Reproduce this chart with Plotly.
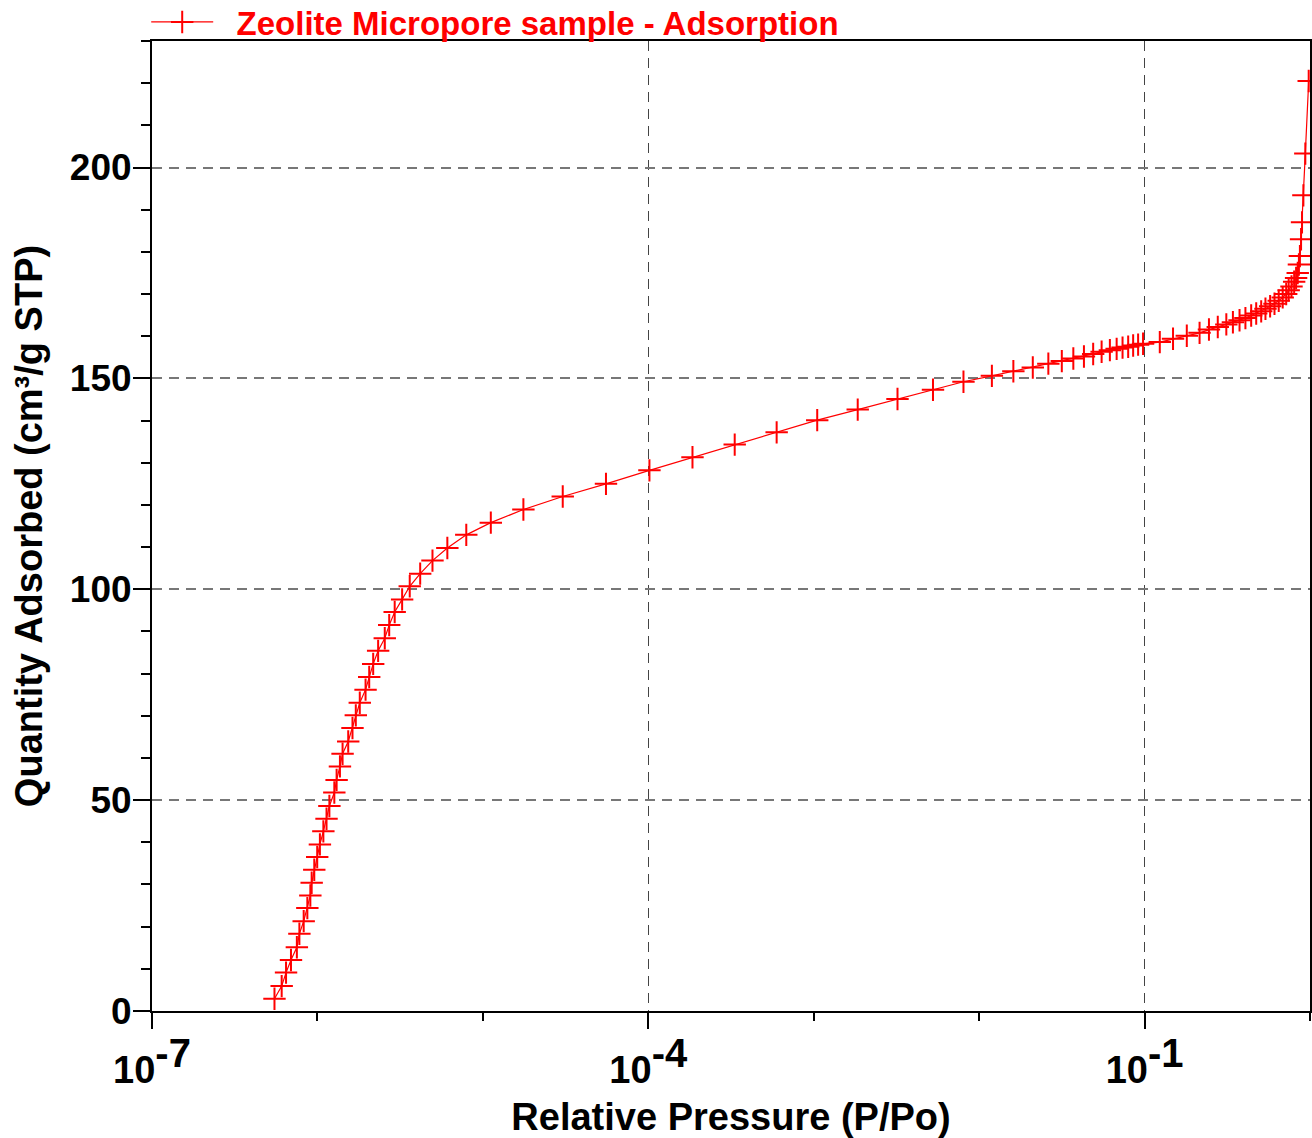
import plotly.graph_objects as go

# Relative pressure (P/Po)
pressure = [
    5.50e-7, 6.08e-7, 6.46e-7, 6.92e-7, 7.51e-7, 7.78e-7, 8.26e-7, 8.69e-7, 9.06e-7, 9.23e-7,
    9.57e-7, 9.97e-7, 1.035e-6, 1.086e-6, 1.135e-6, 1.181e-6, 1.265e-6, 1.306e-6, 1.368e-6, 1.419e-6,
    1.535e-6, 1.629e-6, 1.706e-6, 1.803e-6, 1.954e-6, 2.056e-6, 2.173e-6, 2.328e-6, 2.553e-6, 2.716e-6,
    2.931e-6, 3.251e-6, 3.614e-6, 4.18e-6, 4.96e-6, 6.10e-6, 7.94e-6, 1.117e-5, 1.758e-5, 3.04e-5,
    5.55e-5, 1.016e-4, 1.85e-4, 3.33e-4, 5.97e-4, 1.05e-3, 1.845e-3, 3.21e-3, 5.26e-3, 8.04e-3,
    1.194e-2, 1.61e-2, 2.11e-2, 2.62e-2, 3.16e-2, 3.71e-2, 4.30e-2, 4.89e-2, 5.50e-2, 6.17e-2,
    6.78e-2, 7.36e-2, 7.96e-2, 8.53e-2, 9.14e-2, 9.79e-2, 0.1236, 0.1486, 0.180, 0.215,
    0.245, 0.277, 0.312, 0.342, 0.375, 0.407, 0.441, 0.473, 0.507, 0.538,
    0.574, 0.610, 0.647, 0.684, 0.718, 0.743, 0.773, 0.802, 0.824, 0.843,
    0.857, 0.869, 0.883, 0.895, 0.912, 0.937, 0.982,
]

# Quantity adsorbed (cm3/g STP)
quantity = [
    2.9, 5.9, 9.1, 12.1, 15.1, 18.3, 21.3, 24.4, 27.4, 30.4,
    33.5, 36.5, 39.5, 42.6, 45.6, 48.6, 51.8, 54.8, 58.0, 61.0,
    63.9, 67.1, 70.1, 73.1, 76.2, 79.2, 82.3, 85.4, 88.4, 91.5,
    94.6, 97.6, 100.7, 103.7, 106.8, 109.8, 112.9, 115.8, 118.9, 122.0,
    125.0, 128.2, 131.3, 134.3, 137.2, 140.1, 142.6, 145.1, 147.3, 149.2,
    150.6, 151.7, 152.6, 153.5, 154.1, 154.7, 155.2, 155.8, 156.3, 156.7,
    157.0, 157.3, 157.5, 157.8, 158.0, 158.2, 158.6, 159.4, 160.1, 160.8,
    161.6, 162.2, 162.8, 163.3, 163.8, 164.3, 164.9, 165.4, 165.9, 166.5,
    167.1, 167.7, 168.4, 169.2, 170.0, 170.9, 171.8, 172.9, 173.8, 175.0,
    177.0, 179.0, 183.0, 187.0, 193.4, 203.3, 220.5,
]

x_tick_vals = [1e-7, 1e-4, 1e-1]
x_tick_exponents = ["-7", "-4", "-1"]
x_minor_vals = [1e-6, 1e-5, 1e-3, 1e-2, 1e0]
y_tick_vals = [0, 50, 100, 150, 200]

series_name = "Zeolite Micropore sample - Adsorption"
FONT = "Liberation Sans, Arial, sans-serif"

x_tick_text = ["10<sup><span style='font-size:40px'>%s</span></sup>" % e for e in x_tick_exponents]

fig = go.Figure()
fig.add_trace(go.Scatter(
    x=pressure, y=quantity, mode="lines+markers",
    name="\u00a0\u00a0" + series_name,
    line=dict(color="#ff0000", width=1.2),
    marker=dict(symbol="cross-thin", size=16, color="#ff0000",
                line=dict(color="#ff0000", width=2)),
))

fig.update_layout(
    width=1312, height=1138,
    margin=dict(l=152, r=2, t=41, b=127, autoexpand=False),
    paper_bgcolor="white", plot_bgcolor="white",
    font=dict(family=FONT, color="black"),
    showlegend=True,
    legend=dict(x=-0.005, xanchor="left", y=1.0196, yanchor="middle",
                bgcolor="rgba(0,0,0,0)", itemwidth=62,
                font=dict(family=FONT, size=33, color="#ff0000", weight="bold")),
)

fig.update_xaxes(
    type="log", range=[-7, 0],
    tickmode="array", tickvals=x_tick_vals, ticktext=x_tick_text,
    tickfont=dict(family=FONT, size=38, weight="bold"),
    ticks="outside", ticklen=16, tickwidth=1.5, tickcolor="black",
    ticklabelstandoff=8,
    showline=True, linecolor="black", linewidth=2, mirror=True,
    showgrid=True, gridcolor="#444444", griddash="10px,7px", gridwidth=1.3,
    minor=dict(tickvals=x_minor_vals, ticks="outside", ticklen=8, tickcolor="black", showgrid=False),
    zeroline=False,
    title=dict(text="Relative Pressure (P/Po)", font=dict(family=FONT, size=38, weight="bold"), standoff=14),
)

fig.update_yaxes(
    range=[0, 230],
    tickmode="array", tickvals=y_tick_vals,
    tickfont=dict(family=FONT, size=37, weight="bold"),
    ticks="outside", ticklen=17, tickwidth=1.5, tickcolor="black",
    ticklabelstandoff=-6,
    showline=True, linecolor="black", linewidth=2, mirror=True,
    showgrid=True, gridcolor="#777777", griddash="10px,7px", gridwidth=1.5,
    minor=dict(dtick=10, ticks="outside", ticklen=9, tickcolor="black", showgrid=False),
    zeroline=False,
    title=dict(text="Quantity Adsorbed (cm³/g STP)", font=dict(family=FONT, size=38, weight="bold"), standoff=16),
)

fig.write_html("out.html")
